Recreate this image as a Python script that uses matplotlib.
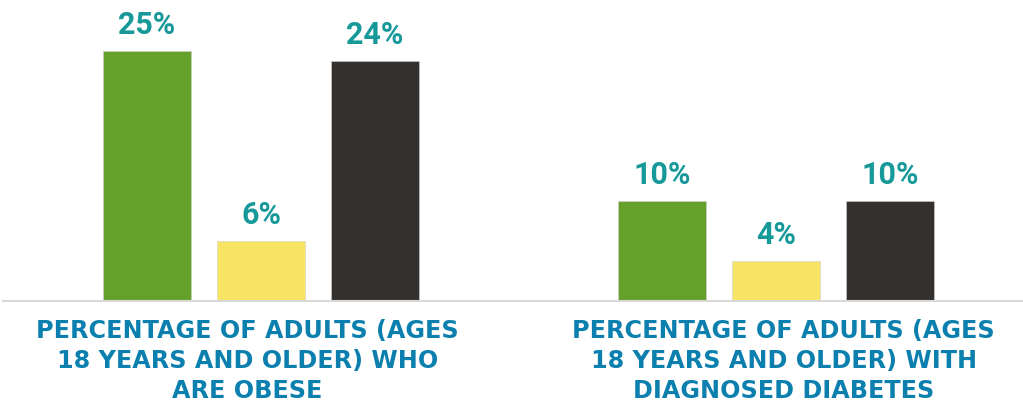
import numpy as np
import matplotlib.pyplot as plt

# ===== DATA =====
categories = [
    "PERCENTAGE OF ADULTS (AGES\n18 YEARS AND OLDER) WHO\nARE OBESE",
    "PERCENTAGE OF ADULTS (AGES\n18 YEARS AND OLDER) WITH\nDIAGNOSED DIABETES",
]
series_a = [25, 10]
series_b = [6, 4]
series_c = [24, 10]
value_labels = [["25%", "10%"], ["6%", "4%"], ["24%", "10%"]]

# ===== STYLE =====
COLORS = ["#64a02a", "#f8e464", "#34302d"]
VALUE_COLOR = "#17999a"
LABEL_COLOR = "#0b7fae"
FONT = ["Roboto", "DejaVu Sans"]
LABEL_FONT = ["DejaVu Sans"]
OFFSET = 0.2214
WIDTH = 0.171

fig = plt.figure(figsize=(10.23, 4.08), dpi=100)
ax = fig.add_axes([0.0, 0.262, 1.0, 0.738])

x = np.arange(len(categories))
all_series = [series_a, series_b, series_c]
for i, (vals, col, labs) in enumerate(zip(all_series, COLORS, value_labels)):
    pos = x + (i - 1) * OFFSET
    ax.bar(pos, vals, width=WIDTH, color=col, edgecolor="#d0d0d0", linewidth=0.4)
    for p, v, lab in zip(pos, vals, labs):
        ax.text(p, v + 1.7, lab, ha="center", va="baseline", fontsize=22,
                fontweight="bold", color=VALUE_COLOR, family=FONT)

ax.set_xlim(-0.507, 1.480)
ax.set_ylim(0, 30.1)

# baseline
ax.axhline(0, xmin=0.003, xmax=1.0, color="#d9d9d9", linewidth=1.5, clip_on=False)

label_x = [-0.026, 1.015]
for lx, cat in zip(label_x, categories):
    ax.text(lx, -1.8, cat, ha="center", va="top", fontsize=17.2, fontweight="bold",
            color=LABEL_COLOR, family=LABEL_FONT, linespacing=1.3)

ax.axis("off")

plt.savefig("out.png", dpi=100)
